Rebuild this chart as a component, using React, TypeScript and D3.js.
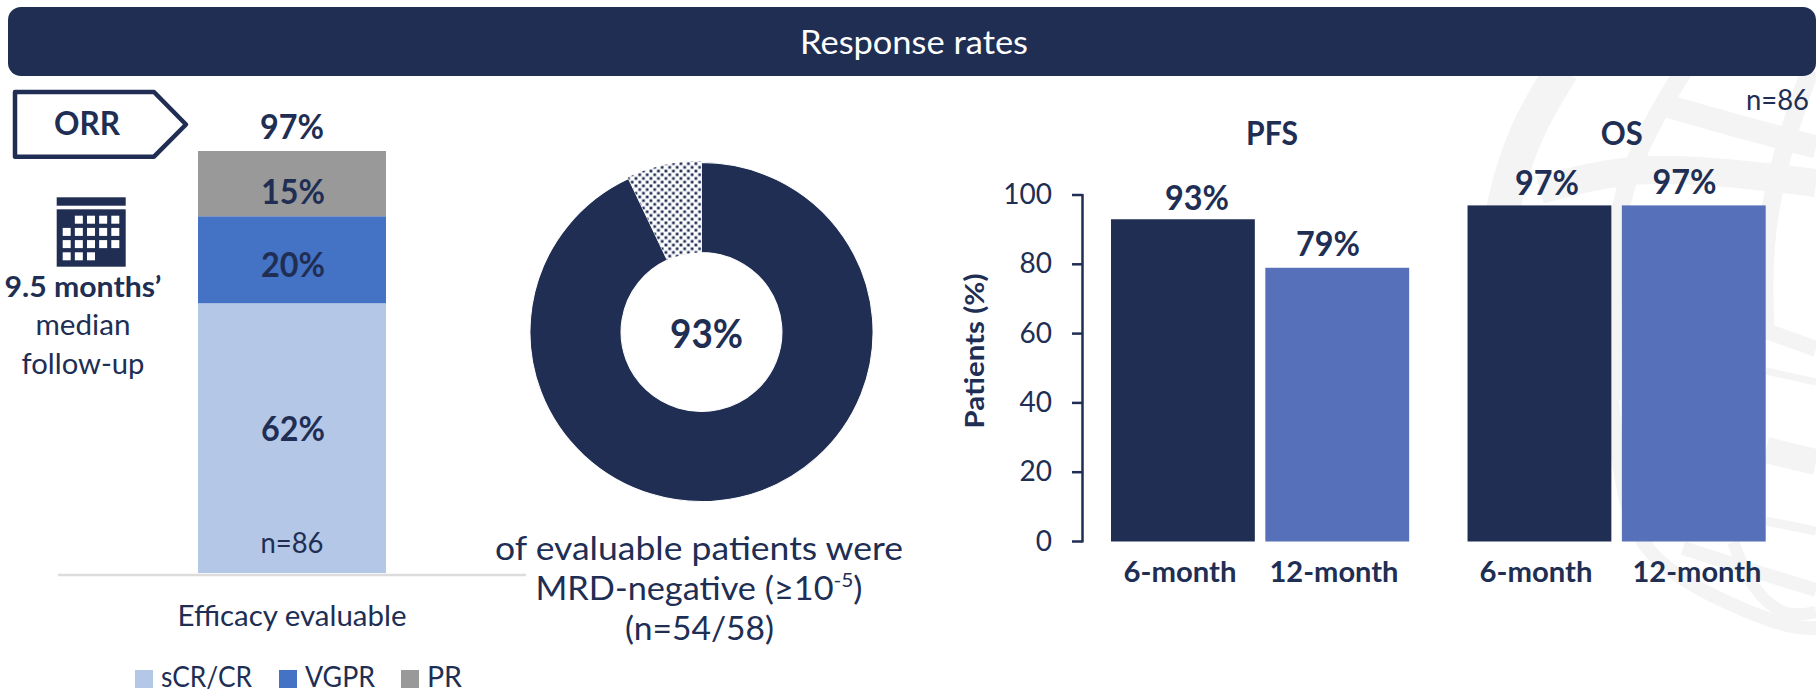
import React from "react";
import * as d3 from "d3";

// Overall response, stacked by depth of response
const responseCategories = ["sCR/CR", "VGPR", "PR"];
const responseValues = [62, 20, 15];
const orrTotal = 97;

// MRD negativity among evaluable patients, in percent
const mrdShares = [93, 7];

// Survival rates
const survivalGroups = ["PFS", "OS"];
const timepoints = ["6-month", "12-month"];
const pfsValues = [93, 79];
const osValues = [97, 97];
const yTicks = [0, 20, 40, 60, 80, 100];

// Background globe emblem, traced as heavy curved bands: [strokeWidth, points]
const emblemBands: [number, [number, number][]][] = [
  [34, [[1562, 70], [1525, 130], [1503, 200], [1492, 280]]],
  [14, [[1612, 400], [1625, 530], [1672, 575], [1730, 605], [1790, 628], [1816, 628]]],
  [18, [[1684, 70], [1650, 125], [1622, 190], [1612, 260], [1612, 400]]],
  [23, [[1667, 106], [1740, 127], [1816, 147]]],
  [28, [[1540, 190], [1607, 172], [1673, 168], [1760, 176], [1816, 183]]],
  [18, [[1810, 70], [1780, 155], [1762, 250], [1766, 340]]],
  [16, [[1766, 331], [1816, 349]]],
  [7, [[1766, 371], [1816, 382]]],
  [26, [[1766, 450], [1816, 462]]],
  [9, [[1766, 521], [1816, 531]]],
  [14, [[1683, 548], [1750, 570], [1816, 590]]],
  [12, [[1733, 542], [1752, 590], [1785, 618], [1816, 612]]],
];

// Month cells of the calendar icon, as [column, row]
const calendarCells: [number, number][] = [
  [1, 0], [2, 0], [3, 0], [4, 0],
  [0, 1], [1, 1], [2, 1], [3, 1], [4, 1],
  [0, 2], [1, 2], [2, 2], [3, 2], [4, 2],
  [0, 3], [1, 3], [2, 3],
];

const NAVY = "#202e54";
const FONT = "Lato, 'Open Sans', sans-serif";
const responseColors = ["#b4c7e7", "#4472c4", "#999999"];
const barColors = [NAVY, "#5671b9"];

// Text fitted to a set width so the wider slide typeface keeps its proportions
function Label({ x, y, w, size = 29, bold = false, anchor = "middle", fill, transform, children }: any) {
  return (
    <text
      x={x}
      y={y}
      textLength={w}
      lengthAdjust="spacingAndGlyphs"
      textAnchor={anchor}
      fontSize={size}
      fontWeight={bold ? 700 : 400}
      fill={fill}
      transform={transform}
    >
      {children}
    </text>
  );
}

export default function App() {
  // Stacked response bar
  const stackY = d3.scaleLinear().domain([0, orrTotal]).range([573, 151]);
  const stackRow = Object.fromEntries(responseCategories.map((c, i) => [c, responseValues[i]]));
  const stacked = d3.stack<any>().keys(responseCategories)([stackRow]);
  const labelBaselines = [440.7, 276.7, 203.5];
  const legendX = [135, 279, 401];
  const legendW = [91, 70, 35];

  // MRD donut
  const pie = d3.pie<number>().sort(null).startAngle(0).endAngle(2 * Math.PI)(mrdShares);
  const arc = d3.arc<d3.PieArcDatum<number>>().innerRadius(79.5).outerRadius(169.5);
  const dottedArc = d3.arc<d3.PieArcDatum<number>>().innerRadius(79.5).outerRadius(171);

  // Survival bars
  const y = d3.scaleLinear().domain([0, 100]).range([541.5, 195]);
  const groupX = d3.scaleBand().domain(survivalGroups).range([1111, 1765.7]).paddingInner(0.1637);
  const barX = d3.scaleBand().domain(timepoints).range([0, groupX.bandwidth()]).paddingInner(0.068);
  const series = [pfsValues, osValues];
  const valueLabelX = [[1197, 1328], [1547, 1684.5]];
  const valueLabelY = [[210, 256], [195, 194]];
  const tickLabelX = [[1180, 1334], [1536, 1697]];
  const tickLabelW = [113, 129];

  const bandPath = d3.line().curve(d3.curveBasis);

  return (
    <svg
      width={1816}
      height={692}
      viewBox="0 0 1816 692"
      style={{ position: "absolute", left: 0, top: 0, display: "block", background: "#fff" }}
      fontFamily={FONT}
      fill={NAVY}
    >
      <defs>
        <pattern id="dots" width={7.4} height={7.4} patternUnits="userSpaceOnUse">
          <rect width={7.4} height={7.4} fill="#fff" />
          <rect x={0.5} y={0.5} width={2.7} height={2.7} fill={NAVY} />
          <rect x={4.2} y={4.2} width={2.7} height={2.7} fill={NAVY} />
        </pattern>
      </defs>

      {/* Globe emblem behind the survival panel */}
      <g fill="none" stroke="#f4f4f4" strokeLinecap="butt">
        {emblemBands.map(([w, pts], i) => (
          <path key={i} d={bandPath(pts) ?? ""} strokeWidth={w} />
        ))}
      </g>

      {/* Header banner */}
      <rect x={8} y={7} width={1808} height={69} rx={13} fill={NAVY} />
      <Label x={914} y={53.5} w={228} size={33} fill="#fff">Response rates</Label>

      {/* ORR tag */}
      <path d="M15,92H154L186,124.5L154,156.7H15Z" fill="none" stroke={NAVY} strokeWidth={4.5} strokeLinejoin="round" />
      <Label x={87} y={135} w={66} size={33} bold>ORR</Label>

      {/* Calendar icon and follow-up note */}
      <rect x={56.7} y={197.3} width={69} height={8.4} />
      <rect x={56.7} y={209.3} width={69} height={57.4} />
      {calendarCells.map(([c, r], i) => (
        <rect key={i} x={62.7 + c * 12.15} y={215.7 + r * 12.2} width={8} height={8} fill="#fff" />
      ))}
      <Label x={83} y={297} w={157} bold>9.5 months’</Label>
      <Label x={83} y={335} w={95}>median</Label>
      <Label x={83} y={374} w={123}>follow-up</Label>

      {/* Stacked response bar */}
      {stacked.map((s, i) => (
        <rect key={s.key} x={198} width={188} y={stackY(s[0][1])} height={stackY(s[0][0]) - stackY(s[0][1])} fill={responseColors[i]} />
      ))}
      <line x1={58} x2={526} y1={575} y2={575} stroke="#dcdcdc" strokeWidth={2.5} />
      <Label x={292} y={139} w={64} size={34} bold>{orrTotal}%</Label>
      {responseValues.map((v, i) => (
        <Label key={i} x={293} y={labelBaselines[i]} w={64} size={34} bold>{v}%</Label>
      ))}
      <Label x={292} y={553} w={63}>n=86</Label>
      <Label x={292} y={626} w={229}>Efficacy evaluable</Label>
      {responseCategories.map((c, i) => (
        <g key={c}>
          <rect x={legendX[i]} y={670} width={18} height={18} fill={responseColors[i]} />
          <Label x={legendX[i] + 26} y={687} w={legendW[i]} anchor="start">{c}</Label>
        </g>
      ))}

      {/* MRD donut */}
      <g transform="translate(701.5,332) scale(1.012,1)">
        <path d={arc(pie[0]) ?? ""} fill={NAVY} stroke="#fff" strokeWidth={1} />
        <path d={dottedArc(pie[1]) ?? ""} fill="url(#dots)" />
      </g>
      <Label x={706.5} y={348} w={73} size={40} bold>93%</Label>
      <Label x={699} y={560} w={408} size={33}>of evaluable patients were</Label>
      <Label x={699} y={600} w={327} size={33}>
        MRD-negative (≥10
        <tspan fontSize={20} dy={-13}>-5</tspan>
        <tspan dy={13}>)</tspan>
      </Label>
      <Label x={699.5} y={640} w={149} size={33}>(n=54/58)</Label>

      {/* Survival axis */}
      <Label x={0} y={0} w={155} size={26} bold transform="translate(983.6,351) rotate(-90)">Patients (%)</Label>
      <line x1={1082.5} x2={1082.5} y1={y(100) - 1} y2={y(0) + 1} stroke={NAVY} strokeWidth={2.5} />
      {yTicks.map((t) => (
        <g key={t}>
          <line x1={1072} x2={1082.5} y1={y(t)} y2={y(t)} stroke={NAVY} strokeWidth={2.5} />
          <text x={1052} y={y(t) + 9} textAnchor="end" fontSize={28}>{t}</text>
        </g>
      ))}

      {/* Survival bars */}
      {survivalGroups.map((g, gi) => (
        <g key={g}>
          <Label x={gi === 0 ? 1272 : 1621.7} y={144.5} w={gi === 0 ? 52 : 42} size={33} bold>{g}</Label>
          {timepoints.map((t, ti) => (
            <g key={t}>
              <rect
                x={(groupX(g) ?? 0) + (barX(t) ?? 0)}
                width={barX.bandwidth()}
                y={y(series[gi][ti])}
                height={y(0) - y(series[gi][ti])}
                fill={barColors[ti]}
              />
              <Label x={valueLabelX[gi][ti]} y={valueLabelY[gi][ti]} w={64} size={34} bold>{series[gi][ti]}%</Label>
              <Label x={tickLabelX[gi][ti]} y={581.5} w={tickLabelW[ti]} bold>{t}</Label>
            </g>
          ))}
        </g>
      ))}
      <Label x={1809} y={110} w={63} anchor="end">n=86</Label>
    </svg>
  );
}
